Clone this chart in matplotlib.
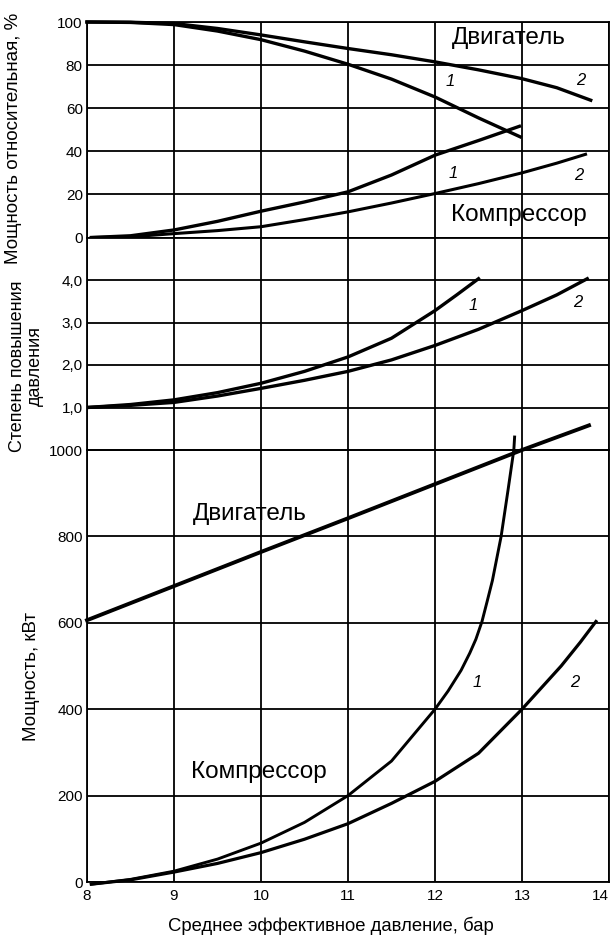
import matplotlib.pyplot as plt

plt.rcParams['font.family'] = ['Liberation Sans', 'DejaVu Sans']

# --- data ---
# top panel: relative power, %
rel_eng1_x = [8.0, 8.5, 9.0, 9.5, 10.0, 10.5, 11.0, 11.5, 12.0, 12.5, 12.98]
rel_eng1_y = [100, 99.8, 98.8, 95.8, 91.8, 86.5, 80.4, 73.5, 65.2, 55.5, 46.7]
rel_eng2_x = [8.0, 8.5, 9.0, 9.5, 10.0, 10.5, 11.0, 11.5, 12.0, 12.5, 13.0, 13.4, 13.79]
rel_eng2_y = [100, 99.9, 99.3, 97, 94, 90.8, 87.7, 84.8, 81.5, 77.8, 73.7, 69.5, 63.7]
rel_cmp1_x = [8.05, 8.5, 9.0, 9.5, 10.0, 10.5, 11.0, 11.5, 12.0, 12.5, 12.97]
rel_cmp1_y = [0, 0.8, 3.5, 7.5, 12.2, 16.5, 21.2, 29, 38.2, 45, 51.6]
rel_cmp2_x = [8.05, 8.5, 9.0, 9.5, 10.0, 10.5, 11.0, 11.5, 12.0, 12.5, 13.0, 13.4, 13.73]
rel_cmp2_y = [0, 0.3, 1.8, 3.2, 5, 8.3, 11.9, 16, 20.4, 25, 30, 34.5, 38.6]

# middle panel: pressure ratio
pr1_x = [8.0, 8.5, 9.0, 9.5, 10.0, 10.5, 11.0, 11.5, 12.0, 12.25, 12.5]
pr1_y = [1.0, 1.07, 1.18, 1.35, 1.57, 1.85, 2.19, 2.63, 3.28, 3.65, 4.03]
pr2_x = [8.0, 8.5, 9.0, 9.5, 10.0, 10.5, 11.0, 11.5, 12.0, 12.5, 13.0, 13.4, 13.75]
pr2_y = [1.0, 1.05, 1.12, 1.27, 1.45, 1.64, 1.85, 2.12, 2.46, 2.84, 3.28, 3.65, 4.03]

# bottom panel: power, kW
eng_x = [8.0, 9.0, 10.0, 11.0, 12.0, 13.0, 13.77]
eng_y = [606, 685, 764, 842, 921, 1000, 1057]
cmp1_x = [8.05, 8.5, 9.0, 9.5, 10.0, 10.5, 11.0, 11.5, 12.0, 12.15, 12.3, 12.4,
          12.47, 12.54, 12.6, 12.66, 12.76, 12.84, 12.906, 12.915]
cmp1_y = [-5, 6, 25, 53, 90, 138, 200, 280, 400, 442, 490, 530,
          562, 603, 650, 698, 800, 908, 1000, 1030]
cmp2_x = [8.05, 8.5, 9.0, 9.5, 10.0, 10.5, 11.0, 11.5, 12.0, 12.5, 13.0, 13.45, 13.67, 13.85]
cmp2_y = [-5, 5, 23, 43, 68, 99, 135, 182, 233, 298, 400, 500, 555, 603]

x_ticks = [8, 9, 10, 11, 12, 13, 14]
rel_ticks = [0, 20, 40, 60, 80, 100]
pr_ticks = [1, 2, 3, 4]
pr_labels = ['1,0', '2,0', '3,0', '4,0']
kw_ticks = [0, 200, 400, 600, 800, 1000]

W, H = 615, 942
fig = plt.figure(figsize=(W / 100, H / 100), dpi=100)


def box(top_px, bot_px):
    left, right = 87, 609
    return [left / W, 1 - bot_px / H, (right - left) / W, (bot_px - top_px) / H]


ax1 = fig.add_axes(box(22, 237.5))
ax2 = fig.add_axes(box(237.5, 450))
ax3 = fig.add_axes(box(450, 882))

for ax in (ax1, ax2, ax3):
    ax.set_xlim(8, 14)
    ax.set_xticks(x_ticks)
    ax.grid(True, color='black', lw=1.3)
    ax.tick_params(length=0, pad=3, labelsize=11)
    for s in ax.spines.values():
        s.set_linewidth(1.3)
    ax.set_axisbelow(True)

ax1.set_ylim(0, 100)
ax1.set_yticks(rel_ticks)
ax1.tick_params(labelbottom=False)
ax2.set_ylim(0, 5)
ax2.set_yticks(pr_ticks)
ax2.set_yticklabels(pr_labels)
ax2.tick_params(labelbottom=False)
ax3.set_ylim(0, 1000)
ax3.set_yticks(kw_ticks)
ax3.tick_params(axis='x', pad=5)
xl = ax3.set_xticklabels([str(t) for t in x_ticks])
xl[-1].set_ha('right')

lw = 2.4
ax1.plot(rel_eng1_x, rel_eng1_y, color='black', lw=lw, clip_on=False)
ax1.plot(rel_eng2_x, rel_eng2_y, color='black', lw=lw, clip_on=False)
ax1.plot(rel_cmp1_x, rel_cmp1_y, color='black', lw=lw, clip_on=False)
ax1.plot(rel_cmp2_x, rel_cmp2_y, color='black', lw=2.2, clip_on=False)

ax2.plot(pr1_x, pr1_y, color='black', lw=lw)
ax2.plot(pr2_x, pr2_y, color='black', lw=lw)

ax3.plot(eng_x, eng_y, color='black', lw=2.8, clip_on=False)
ax3.plot(cmp1_x, cmp1_y, color='black', lw=2.1, clip_on=False)
ax3.plot(cmp2_x, cmp2_y, color='black', lw=2.3, clip_on=False)

# curve labels
big = 17.5
num = dict(fontsize=12, style='italic', ha='center', va='center')
ax1.text(12.85, 92.8, 'Двигатель', fontsize=big, ha='center', va='center')
ax1.text(12.96, 10.3, 'Компрессор', fontsize=big, ha='center', va='center')
for x, y, t in [(12.18, 72.2, '1'), (13.67, 73, '2'), (12.21, 29.7, '1'), (13.65, 28.9, '2')]:
    ax1.text(x, y, t, **num)
for x, y, t in [(12.44, 3.4, '1'), (13.64, 3.47, '2')]:
    ax2.text(x, y, t, **num)
ax3.text(9.87, 852, 'Двигатель', fontsize=big, ha='center', va='center')
ax3.text(9.98, 254, 'Компрессор', fontsize=big, ha='center', va='center')
for x, y, t in [(12.49, 462, '1'), (13.61, 462, '2')]:
    ax3.text(x, y, t, **num)

# axis titles
fig.text(14 / W, 1 - 138 / H, 'Мощность относительная, %', rotation=90,
         fontsize=13.5, ha='center', va='center')
fig.text(18 / W, 1 - 366 / H, 'Степень повышения', rotation=90,
         fontsize=13, ha='center', va='center')
fig.text(35 / W, 1 - 366 / H, 'давления', rotation=90,
         fontsize=13, ha='center', va='center')
fig.text(32 / W, 1 - 676 / H, 'Мощность, кВт', rotation=90,
         fontsize=13.5, ha='center', va='center')
fig.text(331 / W, 1 - 926 / H, 'Среднее эффективное давление, бар',
         fontsize=13.3, ha='center', va='center')

fig.savefig('out.png', dpi=100)
